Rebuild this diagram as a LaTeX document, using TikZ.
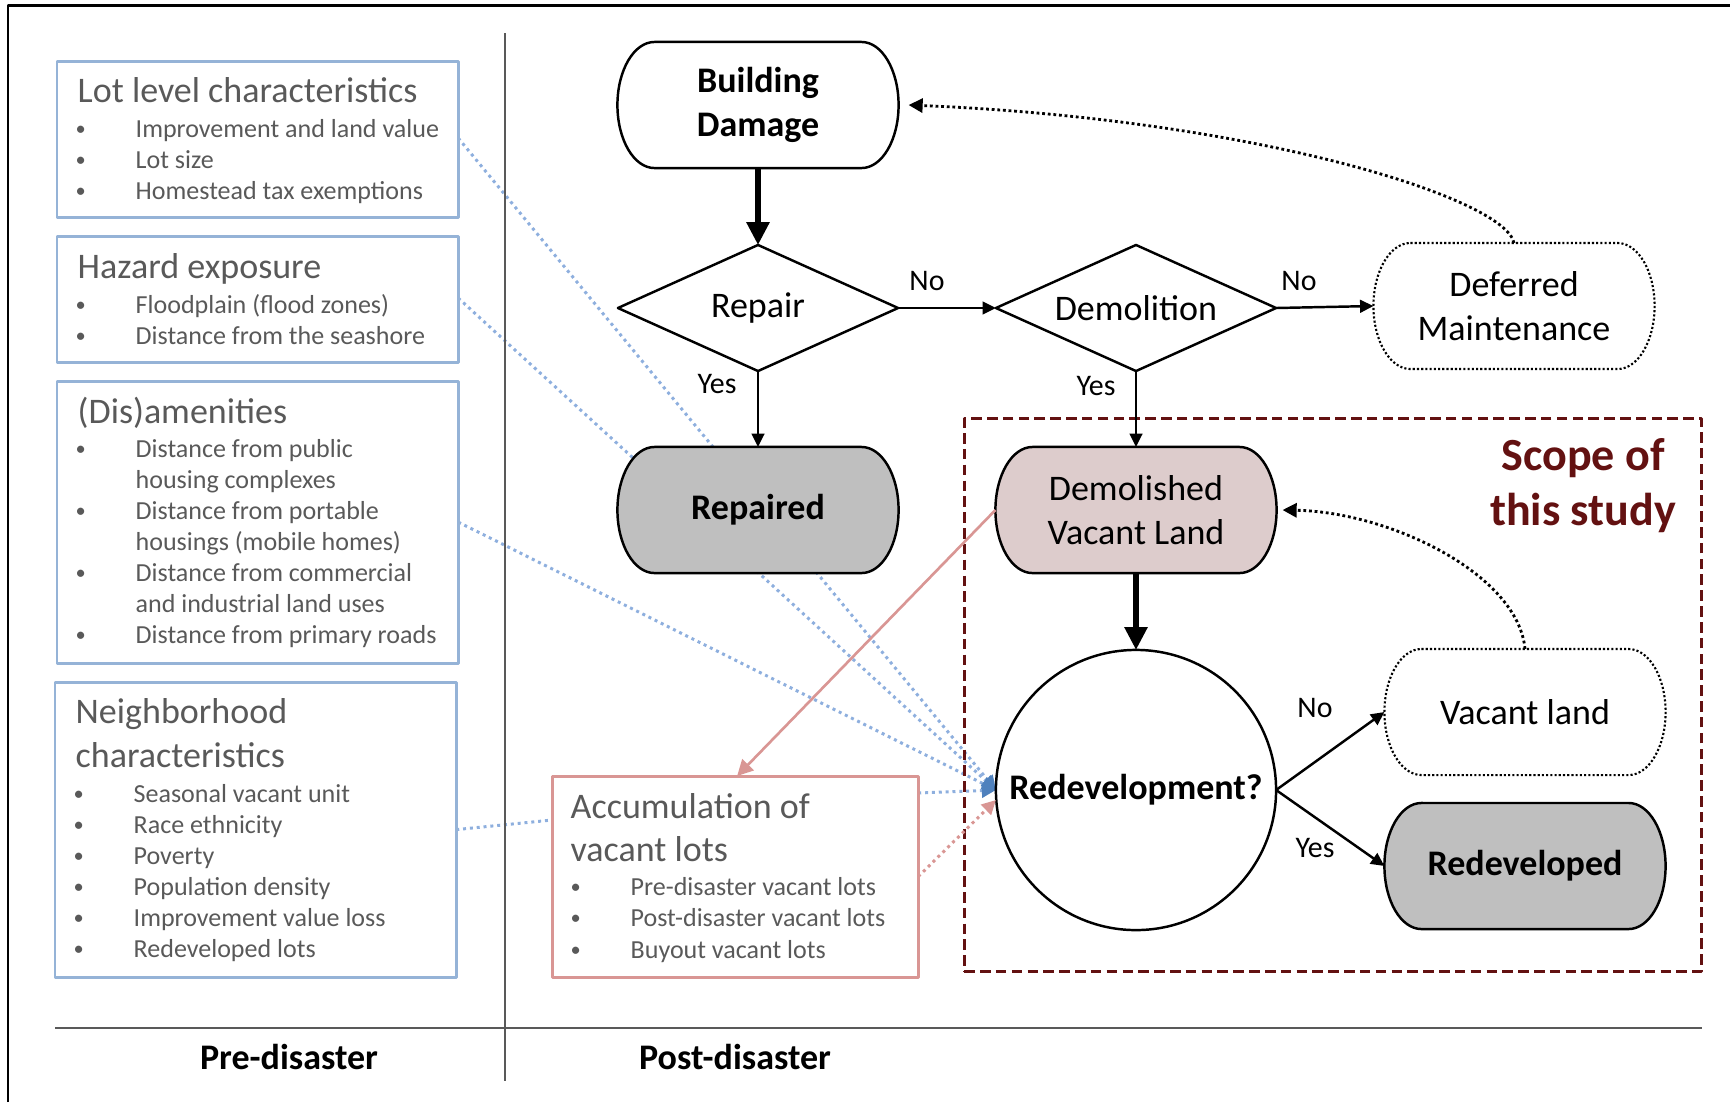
\documentclass[tikz,border=0pt]{standalone}
\usepackage{fontspec}
\setmainfont{Carlito}
\usetikzlibrary{arrows.meta,shapes.geometric,backgrounds}
\definecolor{txtgrey}{HTML}{595959}
\definecolor{boxblue}{RGB}{149,179,215}
\definecolor{dotblue}{RGB}{142,175,222}
\definecolor{tipblue}{RGB}{79,129,189}
\definecolor{boxpink}{RGB}{217,150,148}
\definecolor{landfill}{RGB}{221,204,204}
\definecolor{donefill}{HTML}{BFBFBF}
\definecolor{scopered}{RGB}{99,17,17}
% capsule outline with elliptic ends, drawn round a named node
\newcommand{\capsule}[1]{([xshift=0.37cm]#1.north west) -- ([xshift=-0.37cm]#1.north east)
  arc[start angle=90, end angle=-90, x radius=0.37cm, y radius=0.63cm]
  -- ([xshift=0.37cm]#1.south west)
  arc[start angle=270, end angle=90, x radius=0.37cm, y radius=0.63cm] -- cycle}
\tikzset{
    factorbox/.style={draw=boxblue, line width=0.85pt, anchor=north west, inner sep=0pt, outer sep=0pt},
    vacantbox/.style={factorbox, draw=boxpink},
    head/.style={anchor=base west, inner sep=0pt, text=txtgrey, font=\fontsize{10.24}{12.5}\selectfont},
    item/.style={anchor=base west, inner sep=0pt, text=txtgrey, font=\fontsize{7.4}{8.8}\selectfont},
    dot/.style={item, font=\fontsize{5.8}{7}\selectfont, yshift=0.02cm},
    flowtxt/.style={inner sep=0pt, outer sep=0pt, align=center, font=\fontsize{10.24}{12.5}\selectfont},
    stadium/.style={flowtxt, minimum width=2.81cm, minimum height=1.26cm},
    decision/.style={flowtxt, diamond, aspect=2.2, draw, line width=0.7pt, minimum width=2.8cm, minimum height=1.26cm},
    outline/.style={draw=black, line width=0.7pt},
    dotline/.style={draw=black, line width=0.6pt, dash pattern=on 0.6pt off 0.6pt},
    flow/.style={draw=black, line width=0.7pt, -{Triangle[length=3.8pt,width=3.6pt]}},
    bigflow/.style={draw=black, line width=1.5pt, -{Triangle[length=6.5pt,width=6.3pt]}},
    loopback/.style={draw=black, line width=0.8pt, dash pattern=on 0.8pt off 0.8pt, -{Triangle[length=4pt,width=4pt]}},
    factorlink/.style={draw=dotblue, line width=0.85pt, dash pattern=on 0.85pt off 1.1pt, -{Triangle[length=4pt,width=4pt,color=tipblue]}},
    lotlink/.style={draw=boxpink, line width=0.85pt, dash pattern=on 0.85pt off 1.1pt, -{Triangle[length=4pt,width=4pt]}},
    choice/.style={inner sep=0pt, font=\fontsize{8.5}{10}\selectfont},
    period/.style={inner sep=0pt, font=\fontsize{10.24}{12.5}\selectfont\bfseries},
    sepline/.style={draw=black!65, line width=0.45pt},
}

\begin{document}
\begin{tikzpicture}[x=0.01cm, y=-0.01cm, line join=round]
    \useasboundingbox (0,0) rectangle (1730,1102);
    % Frame and the pre/post split
    \draw[line width=0.85pt] (8,1102) -- (8,5) -- (1730,5);
    \draw[sepline] (505,33) -- (505,1081);
    \draw[sepline] (55,1028) -- (1702,1028);
    \node[period] (pre) at (289,1057) {Pre-disaster};
    \node[period] (post) at (735,1057) {Post-disaster};

    % Lot level characteristics
    \node[factorbox, minimum width=4.01cm, minimum height=1.56cm] (lotbox) at (57,61) {};
    \node[head] (lothead) at (77,102) {Lot level characteristics};
    \foreach \y/\t in {137/Improvement and land value, 168/Lot size, 199/Homestead tax exemptions} {
        \node[dot] (lotdot\y) at (75,\y) {\textbullet};
        \node[item] (lot\y) at (135,\y) {\t};
    }
    % Hazard exposure
    \node[factorbox, minimum width=4.01cm, minimum height=1.26cm] (hazbox) at (57,236) {};
    \node[head] (hazhead) at (77,278) {Hazard exposure};
    \foreach \y/\t in {313/Floodplain (flood zones), 344/Distance from the seashore} {
        \node[dot] (hazdot\y) at (75,\y) {\textbullet};
        \node[item] (haz\y) at (135,\y) {\t};
    }
    % (Dis)amenities
    \node[factorbox, minimum width=4.01cm, minimum height=2.82cm] (amenbox) at (57,381) {};
    \node[head] (amenhead) at (77,423) {(Dis)amenities};
    \foreach \y in {457,519,581,643}
        \node[dot] (amendot\y) at (75,\y) {\textbullet};
    \foreach \y/\t in {457/Distance from public, 488/housing complexes, 519/Distance from portable,
        550/housings (mobile homes), 581/Distance from commercial, 612/and industrial land uses,
        643/Distance from primary roads}
        \node[item] (amen\y) at (135,\y) {\t};
    % Neighborhood characteristics
    \node[factorbox, minimum width=4.01cm, minimum height=2.95cm] (nbhdbox) at (55,682) {};
    \node[head] (nbhdhead) at (75,723) {Neighborhood};
    \node[head] (nbhdhead2) at (75,767) {characteristics};
    \foreach \y/\t in {802/Seasonal vacant unit, 833/Race ethnicity, 864/Poverty,
        895/Population density, 926/Improvement value loss, 957/Redeveloped lots} {
        \node[dot] (nbhddot\y) at (73,\y) {\textbullet};
        \node[item] (nbhd\y) at (133,\y) {\t};
    }
    % Accumulation of vacant lots
    \node[vacantbox, minimum width=3.66cm, minimum height=2.01cm] (accum) at (552,776) {};
    \node[head] (accumhead) at (570,818) {Accumulation of};
    \node[head] (accumhead2) at (570,861) {vacant lots};
    \foreach \y/\t in {895/Pre-disaster vacant lots, 926/Post-disaster vacant lots, 958/Buyout vacant lots} {
        \node[dot] (accumdot\y) at (570,\y) {\textbullet};
        \node[item] (accum\y) at (630,\y) {\t};
    }

    % Scope of this study
    \node[draw=scopered, line width=0.85pt, dash pattern=on 3pt off 1.5pt, minimum width=7.37cm,
        minimum height=5.52cm, inner sep=0pt] (scope) at (1333,695) {};
    \node[inner sep=0pt, align=center, text=scopered, font=\fontsize{13.1}{15.6}\selectfont\bfseries]
        (scopelbl) at (1583,486) {Scope of\\this study};

    % Flow nodes
    \node[stadium, font=\fontsize{10.24}{12.5}\selectfont\bfseries] (bd) at (758,105) {Building\\Damage};
    \node[decision] (repair) at (758,308) {Repair};
    \node[decision] (demol) at (1136,308) {Demolition};
    \node[stadium] (defer) at (1514,306) {Deferred\\Maintenance};
    \node[stadium, font=\fontsize{10.24}{12.5}\selectfont\bfseries] (repaired) at (758,510) {Repaired};
    \node[stadium] (demolished) at (1136,510) {Demolished\\Vacant Land};
    \node[flowtxt, circle, draw, fill=white, line width=0.7pt, minimum size=2.8cm,
        font=\fontsize{10.24}{12.5}\selectfont\bfseries] (redev) at (1136,790) {Redevelopment?};
    \node[stadium] (vacant) at (1525,712) {Vacant land};
    \node[stadium, font=\fontsize{10.24}{12.5}\selectfont\bfseries] (redeveloped) at (1525,866) {Redeveloped};

    \begin{scope}[on background layer]
        % Factors feeding the redevelopment model
        \draw[factorlink] ([yshift=-0.77cm]lotbox.north east) -- (redev.west);
        \draw[factorlink] ([yshift=-0.62cm]hazbox.north east) -- (redev.west);
        \draw[factorlink] ([yshift=-1.41cm]amenbox.north east) -- (redev.west);
        \draw[factorlink] ([yshift=-0.17cm]accum.north east) -- (redev.west);
        \draw[factorlink, -] (nbhdbox.east) -- ([yshift=-0.44cm]accum.north west);
        % Capsule shapes
        \draw[outline, fill=white] \capsule{bd};
        \draw[outline, fill=donefill] \capsule{repaired};
        \draw[dotline, fill=white] \capsule{defer};
        \draw[outline, fill=landfill] \capsule{demolished};
        \draw[dotline, fill=white] \capsule{vacant};
        \draw[outline, fill=donefill] \capsule{redeveloped};
    \end{scope}

    % Main decision flow
    \draw[bigflow] (bd) -- (repair);
    \draw[flow] (repair.east) -- (demol.west);
    \draw[flow] (demol.east) -- (defer.west);
    \draw[flow] (repair.south) -- (repaired.north);
    \draw[flow] (demol.south) -- (demolished.north);
    \draw[bigflow] (demolished) -- (redev);
    \draw[flow] (redev.east) -- (vacant.west);
    \draw[flow] (redev.east) -- (redeveloped.west);
    % Feedback loops
    \draw[loopback] (defer.north) .. controls +(-9,-45) and +(345,14) .. ([xshift=0.1cm]bd.east);
    \draw[loopback] (vacant.north) .. controls +(-7,-75) and +(107,2) .. ([xshift=0.06cm]demolished.east);
    % Vacant lots
    \draw[draw=boxpink, line width=0.75pt, -{Triangle[length=4.5pt,width=4.5pt]}]
        (demolished.west) -- ([xshift=1.85cm]accum.north west);
    \draw[lotlink] (accum.east) -- ([yshift=-0.1cm]redev.west);
    % Labels
    \node[choice] (no1) at (927,281) {No};
    \node[choice] (no2) at (1299,281) {No};
    \node[choice] (yes1) at (717,384) {Yes};
    \node[choice] (yes2) at (1096,386) {Yes};
    \node[choice] (no3) at (1315,708) {No};
    \node[choice] (yes3) at (1315,848) {Yes};
\end{tikzpicture}
\end{document}
